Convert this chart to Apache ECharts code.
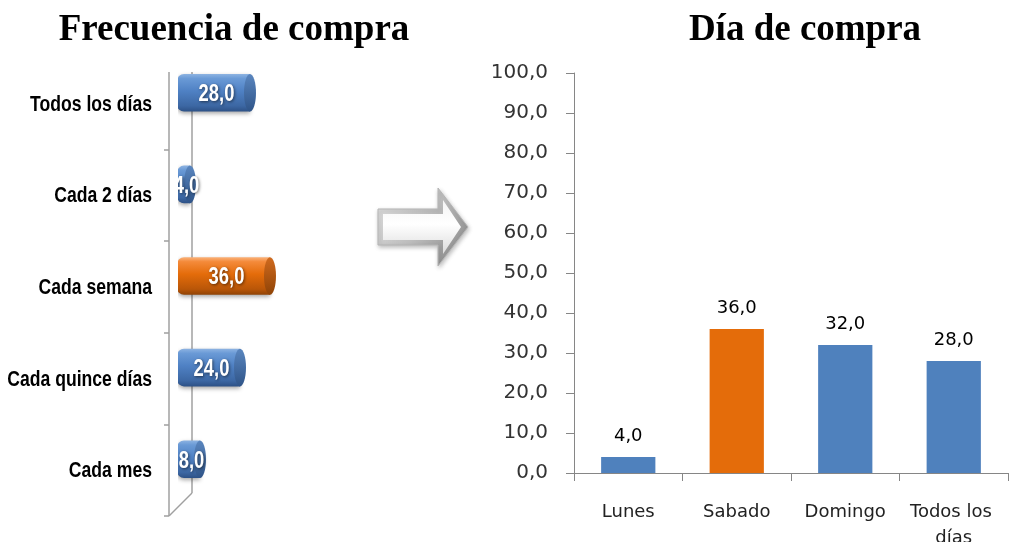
<!DOCTYPE html>
<html>
<head>
<meta charset="utf-8">
<script src="https://cdn.jsdelivr.net/npm/echarts@6/dist/echarts.min.js"></script>
<style>
  html, body { margin: 0; padding: 0; background: #fff; }
  #chart { width: 1013px; height: 542px; }
</style>
</head>
<body>
<div id="chart"></div>
<script>
// Frecuencia de compra (horizontal cylinders)
const freqCats = ['Todos los días', 'Cada 2 días', 'Cada semana', 'Cada quince días', 'Cada mes'];
const freqVals = [28, 4, 36, 24, 8];
const freqHighlight = 'Cada semana';

// Día de compra (vertical columns)
const dayCats = ['Lunes', 'Sabado', 'Domingo', 'Todos los días'];
const dayVals = [4, 36, 32, 28];
const dayHighlight = 'Sabado';

// value axis of the right panel
const dayAxisMin = 0;
const dayAxisMax = 100;
const dayAxisStep = 10;

const fmt = v => Number(v).toFixed(1).replace('.', ',');

const ARIAL = '"Liberation Sans",Arial,sans-serif';
const SANS = '"DejaVu Sans",Verdana,sans-serif';
const SERIF = '"Liberation Serif","Times New Roman",serif';
const NARROW_X = 0.8;   // horizontal squeeze that turns Arial into a narrow face

const BLUE = '#4F81BD';
const ORANGE = '#E46C0A';
const AXIS = '#868686';
const FRAME = '#a0a0a0';

const LG = echarts.graphic.LinearGradient;
const palettes = {
  blue: {
    body: [[0, '#8db3e2'], [0.12, '#6a9ad6'], [0.45, '#4f81c4'], [0.85, '#3c67a3'], [1, '#2d5186']],
    cap: [[0, '#5a86bf'], [1, '#2f5488']]
  },
  orange: {
    body: [[0, '#fab27a'], [0.12, '#f48a3a'], [0.45, '#e46c0a'], [0.85, '#b95608'], [1, '#8f4306']],
    cap: [[0, '#d06a1e'], [1, '#8f4306']]
  }
};
const stops = s => s.map(([o, c]) => ({ offset: o, color: c }));

function cylinder(params, api) {
  const v = api.value(0);
  const ci = api.value(1);
  const base = api.coord([0, ci]);
  const end = api.coord([v, ci]);
  const band = api.size([0, 1])[1];
  const h = band * 0.41;
  const cy = end[1] - 11;      // depth shift of the 3D row
  const x0 = base[0] - 9;      // bar starts in front of the back wall
  const x1 = end[0];
  const rx = 6;
  const pal = freqCats[params.dataIndex] === freqHighlight ? palettes.orange : palettes.blue;
  return {
    type: 'group',
    children: [
      {
        type: 'group',
        clipPath: { type: 'rect', shape: { x: x0 + 1, y: cy - h, width: 600, height: h * 2 } },
        children: [
          {
            type: 'rect',
            shape: { x: x0, y: cy - h / 2, width: Math.max(x1 - rx - x0, 1), height: h, r: [7, 0, 0, 7] },
            style: {
              fill: new LG(0, 0, 0, 1, stops(pal.body)),
              shadowBlur: 4, shadowColor: 'rgba(0,0,0,0.35)', shadowOffsetY: 2
            }
          },
          {
            type: 'ellipse',
            shape: { cx: x1 - rx, cy: cy, rx: rx, ry: h / 2 },
            style: { fill: new LG(0, 0, 0, 1, stops(pal.cap)) }
          },
          {
            type: 'text',
            x: (x0 + x1) / 2,
            y: cy + 2,
            scaleX: NARROW_X,
            style: {
              text: fmt(v),
              x: 0, y: 0,
              align: 'center',
              verticalAlign: 'middle',
              fill: '#ffffff',
              font: 'bold 23px ' + ARIAL,
              textShadowColor: 'rgba(0,0,0,0.55)',
              textShadowBlur: 3,
              textShadowOffsetX: 1,
              textShadowOffsetY: 1
            }
          }
        ]
      },
      // category name, right aligned next to the front edge of the frame
      {
        type: 'text',
        x: base[0] - 34,
        y: base[1] + 1,
        scaleX: NARROW_X,
        style: {
          text: freqCats[params.dataIndex],
          x: 0, y: 0,
          align: 'right',
          verticalAlign: 'middle',
          fill: '#000',
          font: 'bold 22px ' + ARIAL
        }
      }
    ]
  };
}

const chart = echarts.init(document.getElementById('chart'), null, { renderer: 'canvas' });

chart.setOption({
  animation: false,
  backgroundColor: '#ffffff',
  title: [
    {
      text: 'Frecuencia de compra', left: 229, top: 7, textAlign: 'center',
      textStyle: { fontFamily: SERIF, fontWeight: 'bold', fontSize: 37, color: '#000' }
    },
    {
      text: 'Día de compra', left: 800, top: 7, textAlign: 'center',
      textStyle: { fontFamily: SERIF, fontWeight: 'bold', fontSize: 37, color: '#000' }
    }
  ],
  grid: [
    // the front edge of the 3D frame sits at the grid's left side, the value zero a little deeper
    { left: 169, top: 58, width: 267, height: 458, outerBoundsMode: 'none', containLabel: false },
    { left: 574, top: 73, right: 5, bottom: 69, outerBoundsMode: 'none', containLabel: false }
  ],
  xAxis: [
    { gridIndex: 0, type: 'value', min: -6.8, max: 100, show: false },
    {
      gridIndex: 1, type: 'category', data: dayCats,
      axisLine: { lineStyle: { color: AXIS, width: 1 } },
      axisTick: { show: true, length: 8, lineStyle: { color: AXIS } },
      axisLabel: {
        color: '#222', fontFamily: SANS, fontSize: 18, margin: 26,
        width: 104, overflow: 'break', lineHeight: 26, interval: 0
      }
    }
  ],
  yAxis: [
    {
      gridIndex: 0, type: 'category', data: freqCats, inverse: true,
      axisLine: { show: false, onZero: false },
      axisTick: { show: true, length: 5, interval: i => i !== 0, lineStyle: { color: FRAME, width: 1.5 } },
      axisLabel: { show: false }
    },
    {
      gridIndex: 1, type: 'value', min: dayAxisMin, max: dayAxisMax, interval: dayAxisStep,
      axisLine: { show: true, lineStyle: { color: AXIS, width: 1 } },
      axisTick: { show: true, length: 8, lineStyle: { color: AXIS } },
      splitLine: { show: false },
      axisLabel: { color: '#333', fontFamily: SANS, fontSize: 20, margin: 26, formatter: fmt }
    }
  ],
  series: [
    {
      type: 'custom',
      xAxisIndex: 0, yAxisIndex: 0,
      renderItem: cylinder,
      clip: false,
      encode: { x: 0, y: 1 },
      data: freqVals.map((v, i) => [v, i])
    },
    {
      type: 'bar',
      xAxisIndex: 1, yAxisIndex: 1,
      barWidth: '50%',
      data: dayVals.map((v, i) => ({
        value: v,
        itemStyle: { color: dayCats[i] === dayHighlight ? ORANGE : BLUE }
      })),
      label: {
        show: true, position: 'top', distance: 12,
        formatter: p => fmt(p.value),
        color: '#000', fontFamily: SANS, fontSize: 18
      }
    }
  ],
  graphic: [
    // 3D frame of the left panel: front edge, back wall edge and floor diagonal
    { type: 'line', shape: { x1: 169, y1: 72, x2: 169, y2: 516 }, style: { stroke: FRAME, lineWidth: 1.5 }, z: 1 },
    { type: 'line', shape: { x1: 192, y1: 72, x2: 192, y2: 493 }, style: { stroke: FRAME, lineWidth: 1.5 }, z: 0 },
    { type: 'line', shape: { x1: 169, y1: 516, x2: 192, y2: 493 }, style: { stroke: FRAME, lineWidth: 1.5 }, z: 1 },
    // silver arrow between the panels
    {
      type: 'polygon',
      shape: { points: [[378, 209], [438, 209], [438, 188], [468, 227], [438, 266], [438, 245], [378, 245]] },
      style: {
        fill: new LG(0, 0, 1, 1, [
          { offset: 0, color: '#e6e6e6' }, { offset: 0.5, color: '#bdbdbd' }, { offset: 1, color: '#7d7d7d' }
        ]),
        stroke: '#b5b5b5', lineWidth: 1,
        shadowBlur: 4, shadowColor: 'rgba(0,0,0,0.25)', shadowOffsetX: 1, shadowOffsetY: 2
      }
    },
    {
      type: 'polygon',
      shape: { points: [[383, 214], [443, 214], [443, 200], [461, 227], [443, 254], [443, 240], [383, 240]] },
      style: {
        fill: new LG(0, 0, 0, 1, [
          { offset: 0, color: '#f4f4f4' }, { offset: 0.45, color: '#ffffff' }, { offset: 1, color: '#dcdcdc' }
        ])
      }
    }
  ]
});
</script>
</body>
</html>
